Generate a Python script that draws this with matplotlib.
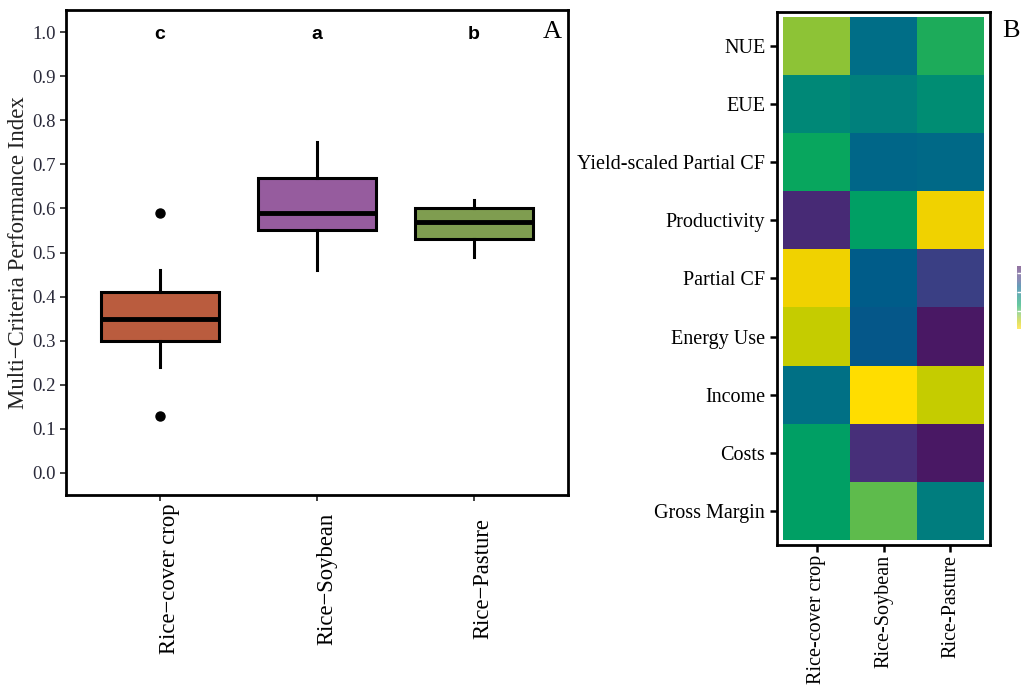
import numpy as np
import matplotlib
matplotlib.use("Agg")
import matplotlib.pyplot as plt
import matplotlib.transforms as mtransforms
from matplotlib.colors import LinearSegmentedColormap
from matplotlib.cm import ScalarMappable

# ---- panel A: box plot summary values ----
systems = ["Rice\u2212cover crop", "Rice\u2212Soybean", "Rice\u2212Pasture"]
q1 = [0.30, 0.55, 0.53]
med = [0.35, 0.59, 0.57]
q3 = [0.41, 0.67, 0.60]
whislo = [0.24, 0.46, 0.49]
whishi = [0.46, 0.75, 0.62]
outliers = [[0.59, 0.13], [], []]
letters = ["c", "a", "b"]
box_colors = ["#BA5C3E", "#965C9E", "#7F9D50"]
yticks = [0.0, 0.1, 0.2, 0.3, 0.4, 0.5, 0.6, 0.7, 0.8, 0.9, 1.0]

# ---- panel B: heatmap (scaled 0-1 scores) ----
indicators = ["NUE", "EUE", "Yield-scaled Partial CF", "Productivity", "Partial CF",
              "Energy Use", "Income", "Costs", "Gross Margin"]
hm_cols = ["Rice-cover crop", "Rice-Soybean", "Rice-Pasture"]
hm_values = [
    [0.80, 0.40, 0.66],
    [0.50, 0.47, 0.52],
    [0.63, 0.37, 0.38],
    [0.10, 0.60, 0.96],
    [0.96, 0.33, 0.22],
    [0.88, 0.31, 0.02],
    [0.41, 1.00, 0.88],
    [0.60, 0.12, 0.02],
    [0.60, 0.74, 0.46],
]

cmap = LinearSegmentedColormap.from_list("vir", [
    (0.00, "#4A1460"), (0.12, "#47307A"), (0.22, "#3A4085"), (0.32, "#005A8A"),
    (0.40, "#006E87"), (0.50, "#008878"), (0.62, "#00A460"), (0.70, "#3CB455"),
    (0.78, "#80C244"), (0.88, "#C4CC00"), (0.96, "#F0D200"), (1.00, "#FFDD00"),
])

serif = "Liberation Serif"
sans = "Liberation Sans"

fig = plt.figure(figsize=(10.21, 6.89), dpi=100)

# ---------------- A ----------------
ax = fig.add_axes([66 / 1021, 1 - 495 / 689, 502 / 1021, 485 / 689])
stats = []
for i in range(3):
    stats.append(dict(q1=q1[i], med=med[i], q3=q3[i], whislo=whislo[i],
                      whishi=whishi[i], fliers=outliers[i]))
bp = ax.bxp(stats, positions=[1, 2, 3], widths=0.75, patch_artist=True,
            showcaps=False,
            boxprops=dict(linewidth=2.2, edgecolor="black"),
            medianprops=dict(linewidth=3.5, color="black"),
            whiskerprops=dict(linewidth=2.2, color="black"),
            flierprops=dict(marker="o", markerfacecolor="black",
                            markeredgecolor="black", markersize=6.5))
for patch, c in zip(bp["boxes"], box_colors):
    patch.set_facecolor(c)
for i, l in enumerate(letters):
    ax.text(i + 1, 0.995, l, ha="center", va="center", fontsize=14,
            fontweight="bold", family=sans)
ax.text(3.5, 1.0, "A", ha="center", va="center", fontsize=19, family=serif)

ax.set_xlim(0.4, 3.6)
ax.set_ylim(-0.05, 1.05)
ax.set_yticks(yticks)
ax.set_yticklabels([f"{v:.1f}" for v in yticks], family=serif, fontsize=13.5,
                   color="#2a2a3a")
ax.set_xticks([1, 2, 3])
ax.set_xticklabels([])
# x labels are vertically centred under the ticks, as in the original
trans = mtransforms.blended_transform_factory(ax.transData, fig.transFigure)
for i, name in enumerate(systems):
    ax.text(i + 1.06, 1 - 579 / 689, name, rotation=90, ha="center", va="center",
            family=serif, fontsize=16.3, transform=trans)
ax.set_ylabel("Multi\u2212Criteria Performance Index", family=serif, fontsize=16.4,
              color="#222222", labelpad=2)
ax.tick_params(axis="both", length=4, width=1.3, color="#333333")
for s in ax.spines.values():
    s.set_linewidth(2)

# ---------------- B ----------------
bx = fig.add_axes([777 / 1021, 1 - 545 / 689, 213 / 1021, 533 / 689])
bx.imshow(np.array(hm_values), cmap=cmap, vmin=0, vmax=1, aspect="auto",
          interpolation="nearest")
bx.set_xlim(-0.59, 2.59)
bx.set_ylim(8.59, -0.59)
bx.set_xticks(range(3))
bx.set_xticklabels(hm_cols, rotation=90, family=serif, fontsize=14.5)
bx.set_yticks(range(len(indicators)))
bx.set_yticklabels(indicators, family=serif, fontsize=14.5)
bx.tick_params(axis="both", length=5, width=1.8)
bx.tick_params(axis="x", pad=2)
for s in bx.spines.values():
    s.set_linewidth(2)
fig.text(1011 / 1021, 1 - 31 / 689, "B", ha="center", va="center",
         fontsize=19, family=serif)

# clipped colour bar at the right edge
cax = fig.add_axes([1017 / 1021, 1 - 329 / 689, 0.03, 63 / 689])
cb = fig.colorbar(ScalarMappable(cmap=cmap, norm=plt.Normalize(0, 1)), cax=cax,
                  alpha=0.6)
cb.outline.set_visible(False)
cax.invert_yaxis()
cb.set_ticks([0.11, 0.41, 0.71])
cax.tick_params(direction="in", length=4, width=1, color="white",
                labelright=False, right=True, left=True)

fig.savefig("out.png", dpi=100)
